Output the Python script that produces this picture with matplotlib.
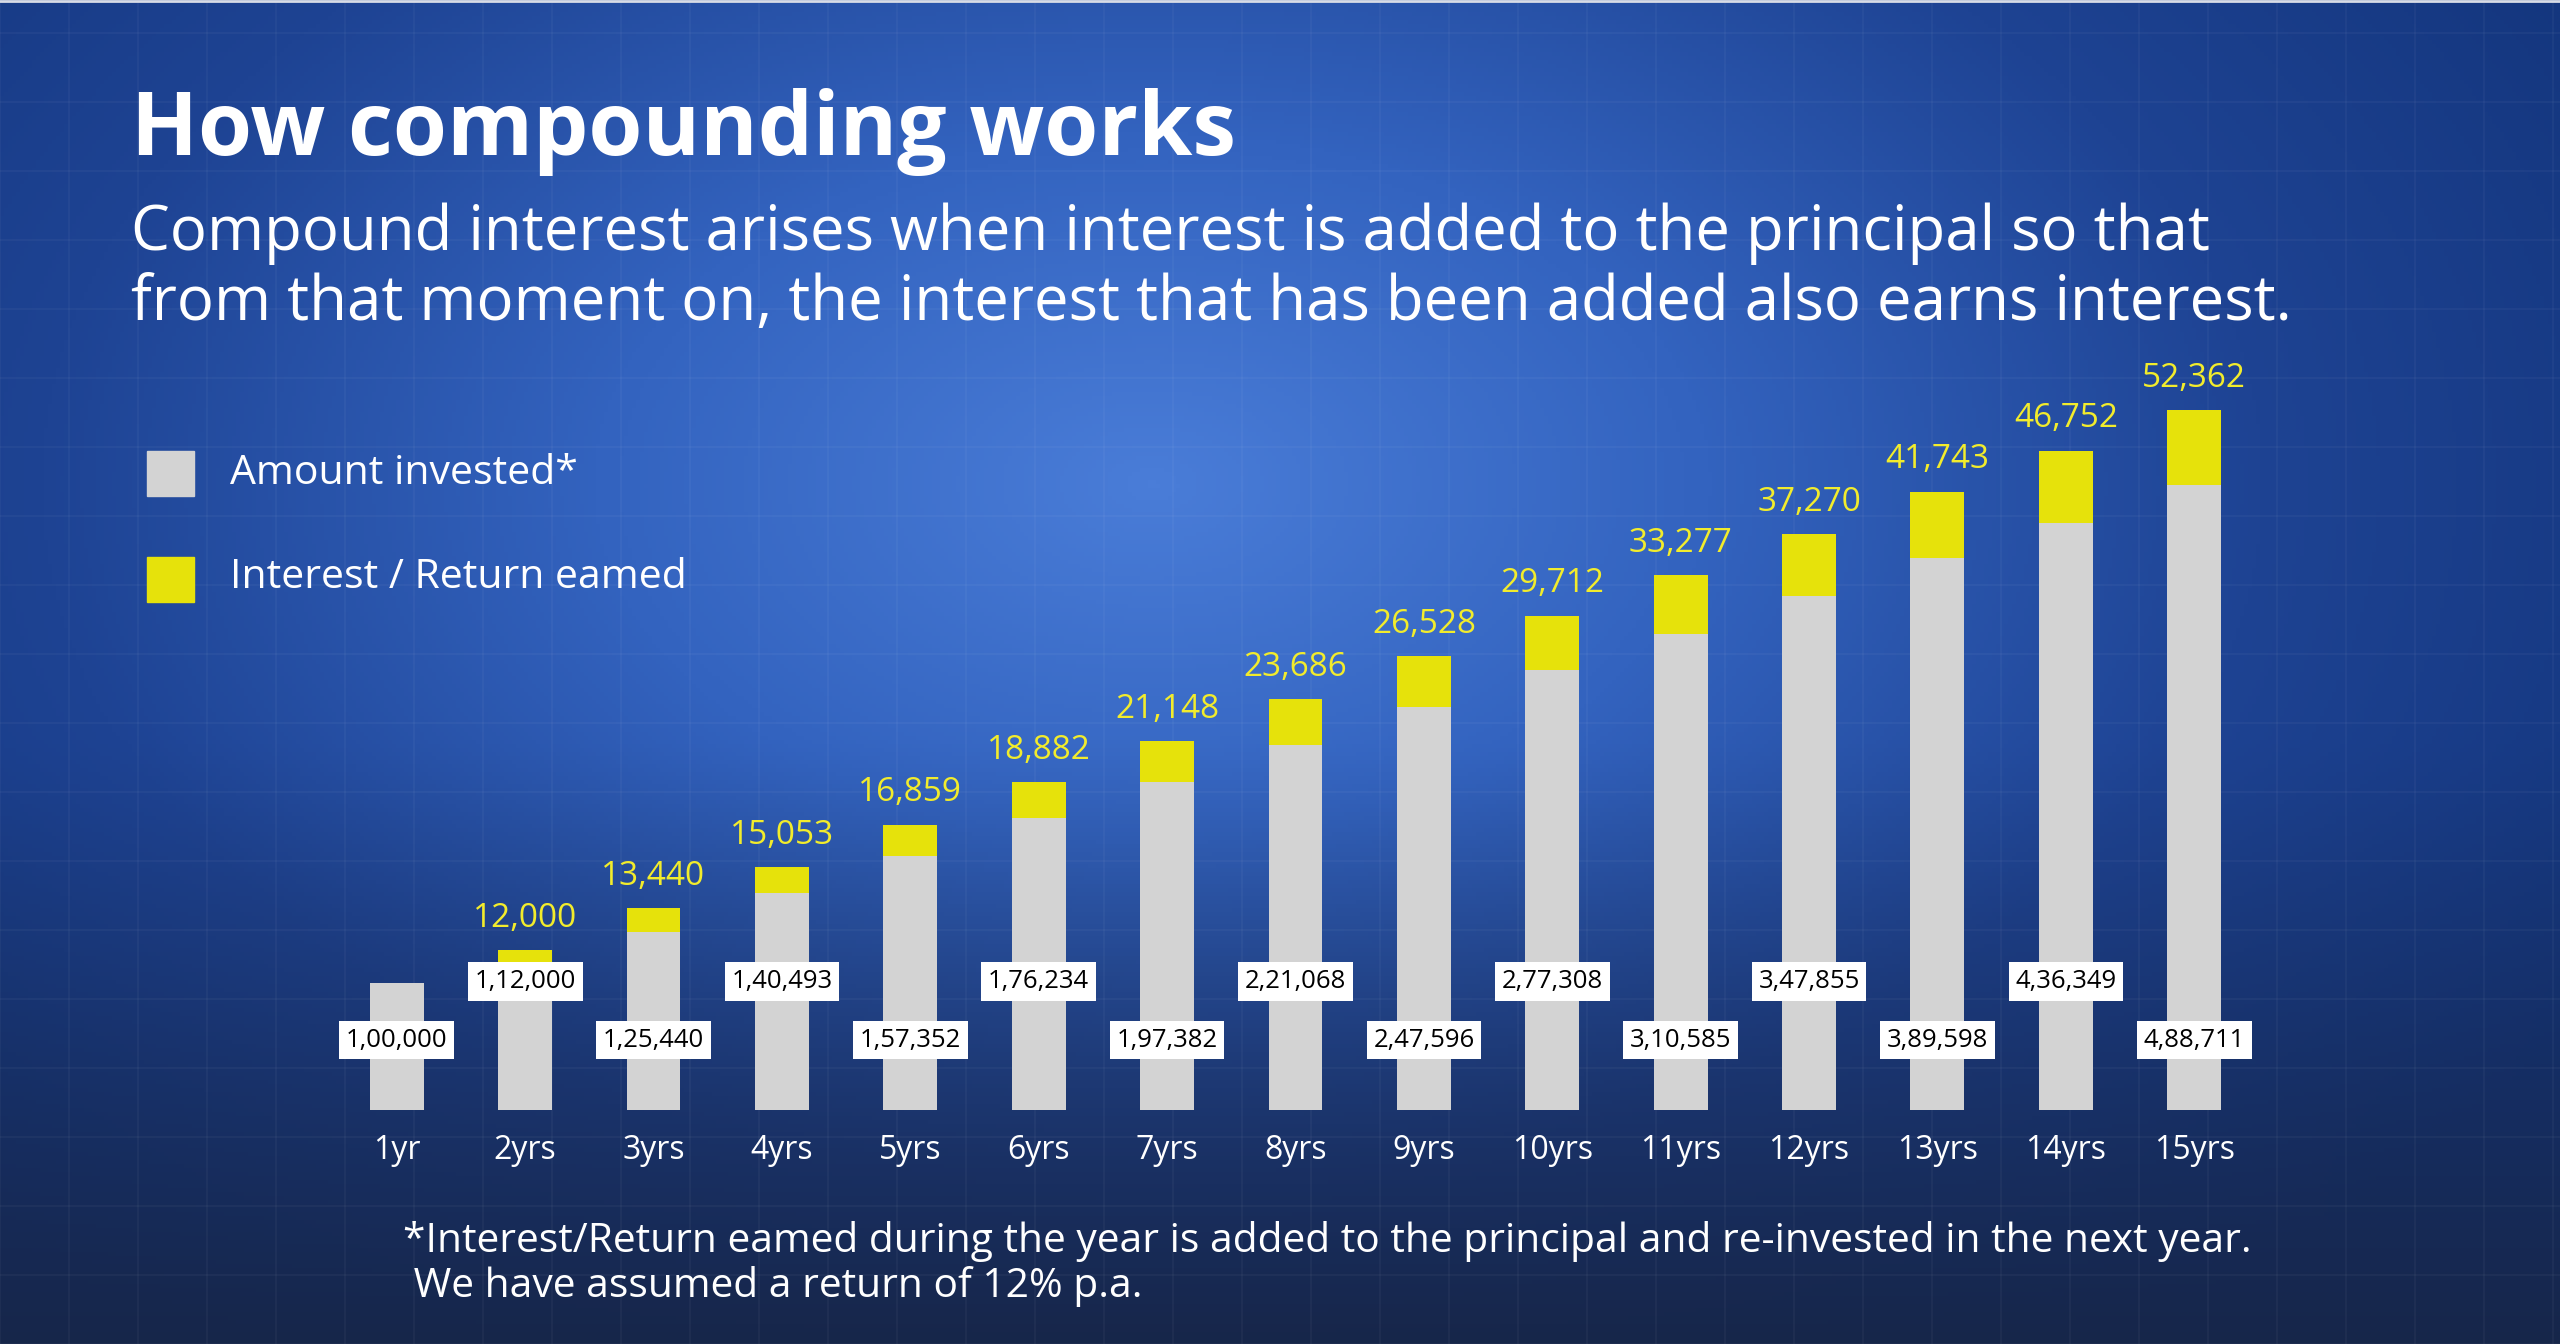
import numpy as np
import matplotlib
matplotlib.use("Agg")
import matplotlib.pyplot as plt
from matplotlib.colors import LinearSegmentedColormap
from matplotlib.patches import Rectangle

plt.rcParams['font.family'] = ['Open Sans', 'DejaVu Sans']

# data
years = ['1yr', '2yrs', '3yrs', '4yrs', '5yrs', '6yrs', '7yrs', '8yrs',
         '9yrs', '10yrs', '11yrs', '12yrs', '13yrs', '14yrs', '15yrs']
invested_lbl = ['1,00,000', '1,12,000', '1,25,440', '1,40,493', '1,57,352',
                '1,76,234', '1,97,382', '2,21,068', '2,47,596', '2,77,308',
                '3,10,585', '3,47,855', '3,89,598', '4,36,349', '4,88,711']
interest_lbl = ['', '12,000', '13,440', '15,053', '16,859', '18,882', '21,148',
                '23,686', '26,528', '29,712', '33,277', '37,270', '41,743',
                '46,752', '52,362']
# bar heights as drawn in the infographic (not to scale with the labels)
invested_h = [78, 86, 109, 133, 156, 179, 201, 224, 247, 270, 292, 315, 338, 360, 383]
interest_h = [0, 12, 15, 16, 19, 22, 25, 28, 31, 33, 36, 38, 41, 44, 46]

GREY = '#d3d3d3'
YELLOW = '#e6e20b'
LABEL_YELLOW = '#f2ec2c'

W, H = 2560, 1344
fig = plt.figure(figsize=(W / 100, H / 100), dpi=100)

# background: radial blue glow, darker towards the bottom
bg = fig.add_axes([0, 0, 1, 1])
yy, xx = np.mgrid[0:1:336j, 0:1:640j]
r = np.sqrt(((xx - 0.45) / 0.65) ** 2 + ((yy - 0.36) / 0.78) ** 2)
r = np.clip(r, 0, 1)
cmap = LinearSegmentedColormap.from_list('glow', ['#4a7dd8', '#3363bf', '#1e4393', '#13357c'])
img = cmap(r)[..., :3]
dark = np.array([0.09, 0.15, 0.29])
t = np.clip((yy - 0.55) / 0.45, 0, 1)[..., None] ** 1.2
img = img * (1 - t) + dark * t
bg.imshow(img, extent=[0, 1, 0, 1], aspect='auto', origin='upper')
for gx in np.arange(0, 1, 69 / W):
    bg.axvline(gx, color='white', alpha=0.035, lw=1.5)
for gy in np.arange(0, 1, 69 / H):
    bg.axhline(gy, color='white', alpha=0.035, lw=1.5)
bg.axhline(0.999, color='#d8dce6', lw=2)
bg.set_xlim(0, 1)
bg.set_ylim(0, 1)
bg.axis('off')

# bars
ax = fig.add_axes([0.1299, 0.1738, 0.7523, 0.5832])
ax.patch.set_alpha(0)
x = np.arange(len(years))
ax.bar(x, invested_h, width=0.42, color=GREY)
ax.bar(x, interest_h, bottom=invested_h, width=0.42, color=YELLOW)
ax.set_xlim(-0.5, len(years) - 0.5)
ax.set_ylim(0, 480)
for s in ax.spines.values():
    s.set_visible(False)
ax.set_yticks([])
ax.set_xticks(x)
ax.set_xticklabels(years, color='white', fontsize=23)
ax.tick_params(axis='x', length=0, pad=17)

for i in range(len(years)):
    yl = 43 if i % 2 == 0 else 79
    ax.text(i, yl, invested_lbl[i], ha='center', va='center', fontsize=18.5,
            color='black', bbox=dict(boxstyle='square,pad=0.26', fc='white', ec='none'))
    if interest_lbl[i]:
        ax.annotate(interest_lbl[i], (i, invested_h[i] + interest_h[i]),
                    xytext=(0, 11), textcoords='offset points', ha='center',
                    va='bottom', fontsize=24, color=LABEL_YELLOW)

# titles
fig.text(0.051, 0.8846, 'How compounding works', fontsize=63, fontweight='bold',
         color='white', va='baseline')
fig.text(0.051, 0.814, 'Compound interest arises when interest is added to the principal so that',
         fontsize=44.5, color='white', va='baseline')
fig.text(0.051, 0.762, 'from that moment on, the interest that has been added also earns interest.',
         fontsize=44.5, color='white', va='baseline')

# legend
fig.patches.append(Rectangle((147 / W, 1 - 496 / H), 47 / W, 45 / H,
                             transform=fig.transFigure, color=GREY))
fig.patches.append(Rectangle((147 / W, 1 - 602 / H), 47 / W, 45 / H,
                             transform=fig.transFigure, color=YELLOW))
fig.text(0.0899, 0.6476, 'Amount invested*', fontsize=29.5, color='white', va='center')
fig.text(0.0899, 0.5699, 'Interest / Return eamed', fontsize=29.5, color='white', va='center')

# footnote
fig.text(0.1575, 0.0765,
         '*Interest/Return eamed during the year is added to the principal and re-invested in the next year.',
         fontsize=29.3, color='white', va='center')
fig.text(0.1575, 0.0425, ' We have assumed a return of 12% p.a.',
         fontsize=29.3, color='white', va='center')

fig.savefig('out.png', dpi=100)
